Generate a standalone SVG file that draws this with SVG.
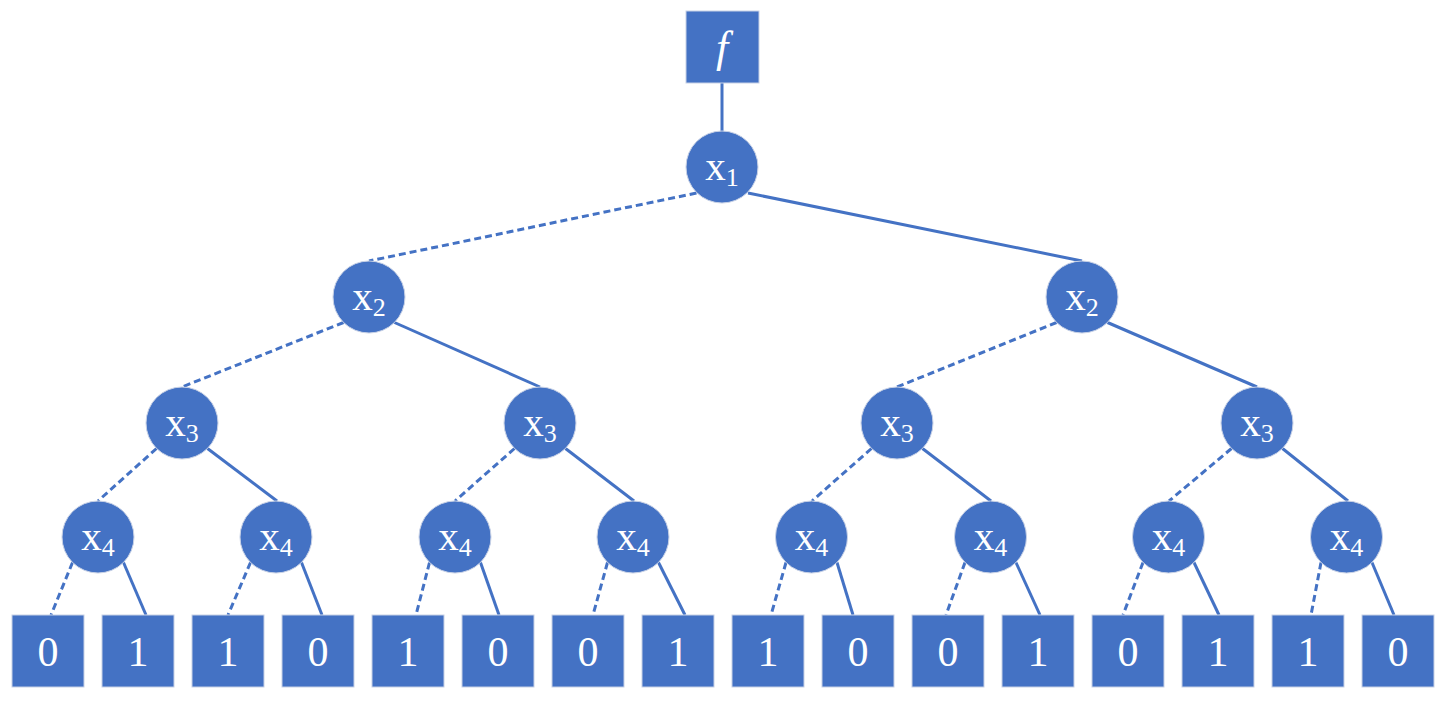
<svg xmlns="http://www.w3.org/2000/svg" width="1440" height="701" viewBox="0 0 1440 701" font-family="'Liberation Serif', 'Times New Roman', serif">
<style>
.nd{fill:#4472C4;stroke:#c7d1e6;stroke-width:1}
.t{fill:#ffffff;text-anchor:middle}
.v{font-size:41px}
.s{font-size:26px}
.lf{font-size:42px}
.e{stroke:#4472C4;stroke-width:3;fill:none}
.d{stroke-dasharray:7 4}
</style>
<rect width="1440" height="701" fill="#ffffff"/>
<g id="connectors">
<line class="e" x1="722" y1="83" x2="722" y2="132"/>
<line class="e d" x1="696.5" y1="193" x2="369" y2="261"/>
<line class="e" x1="748" y1="193" x2="1082" y2="261"/>
<line class="e d" x1="343.5" y1="322.5" x2="182" y2="387"/>
<line class="e" x1="394.5" y1="322.5" x2="540" y2="387"/>
<line class="e d" x1="1056.5" y1="322.5" x2="897" y2="387"/>
<line class="e" x1="1107.5" y1="322.5" x2="1257" y2="387"/>
<line class="e d" x1="156.5" y1="448.5" x2="98" y2="501"/>
<line class="e" x1="207.5" y1="448.5" x2="277" y2="501"/>
<line class="e d" x1="514.5" y1="448.5" x2="455" y2="501"/>
<line class="e" x1="565.5" y1="448.5" x2="634" y2="501"/>
<line class="e d" x1="871.5" y1="448.5" x2="812" y2="501"/>
<line class="e" x1="922.5" y1="448.5" x2="991" y2="501"/>
<line class="e d" x1="1231.5" y1="448.5" x2="1169" y2="501"/>
<line class="e" x1="1282.5" y1="448.5" x2="1348" y2="501"/>
<line class="e d" x1="72.5" y1="562.5" x2="51" y2="615"/>
<line class="e" x1="123.5" y1="562.5" x2="146" y2="615"/>
<line class="e d" x1="250.5" y1="562.5" x2="228" y2="615"/>
<line class="e" x1="301.5" y1="562.5" x2="322" y2="615"/>
<line class="e d" x1="429.5" y1="562.5" x2="416" y2="615"/>
<line class="e" x1="480.5" y1="562.5" x2="499" y2="615"/>
<line class="e d" x1="607.5" y1="562.5" x2="593" y2="615"/>
<line class="e" x1="658.5" y1="562.5" x2="685" y2="615"/>
<line class="e d" x1="786" y1="562.5" x2="771" y2="615"/>
<line class="e" x1="837" y1="562.5" x2="853" y2="615"/>
<line class="e d" x1="965" y1="562.5" x2="946" y2="615"/>
<line class="e" x1="1016" y1="562.5" x2="1040" y2="615"/>
<line class="e d" x1="1143" y1="562.5" x2="1123" y2="615"/>
<line class="e" x1="1194" y1="562.5" x2="1219" y2="615"/>
<line class="e d" x1="1321" y1="562.5" x2="1311" y2="615"/>
<line class="e" x1="1372" y1="562.5" x2="1394" y2="615"/>
</g>
<g id="f"><rect class="nd" x="686" y="11" width="73" height="72"/><text class="t" x="722" y="62" font-size="44" font-style="italic">f</text></g>
<g id="x1"><circle class="nd" cx="722" cy="167" r="36"/><text class="t v" x="722" y="180">x<tspan class="s" dy="6">1</tspan></text></g>
<g id="x2a"><circle class="nd" cx="369" cy="297" r="36"/><text class="t v" x="369" y="310">x<tspan class="s" dy="6">2</tspan></text></g>
<g id="x2b"><circle class="nd" cx="1082" cy="297" r="36"/><text class="t v" x="1082" y="310">x<tspan class="s" dy="6">2</tspan></text></g>
<g id="x3a"><circle class="nd" cx="182" cy="423" r="36"/><text class="t v" x="182" y="436">x<tspan class="s" dy="6">3</tspan></text></g>
<g id="x3b"><circle class="nd" cx="540" cy="423" r="36"/><text class="t v" x="540" y="436">x<tspan class="s" dy="6">3</tspan></text></g>
<g id="x3c"><circle class="nd" cx="897" cy="423" r="36"/><text class="t v" x="897" y="436">x<tspan class="s" dy="6">3</tspan></text></g>
<g id="x3d"><circle class="nd" cx="1257" cy="423" r="36"/><text class="t v" x="1257" y="436">x<tspan class="s" dy="6">3</tspan></text></g>
<g id="x4a"><circle class="nd" cx="98" cy="537" r="36"/><text class="t v" x="98" y="550">x<tspan class="s" dy="6">4</tspan></text></g>
<g id="x4b"><circle class="nd" cx="276" cy="537" r="36"/><text class="t v" x="276" y="550">x<tspan class="s" dy="6">4</tspan></text></g>
<g id="x4c"><circle class="nd" cx="455" cy="537" r="36"/><text class="t v" x="455" y="550">x<tspan class="s" dy="6">4</tspan></text></g>
<g id="x4d"><circle class="nd" cx="633" cy="537" r="36"/><text class="t v" x="633" y="550">x<tspan class="s" dy="6">4</tspan></text></g>
<g id="x4e"><circle class="nd" cx="811.5" cy="537" r="36"/><text class="t v" x="811.5" y="550">x<tspan class="s" dy="6">4</tspan></text></g>
<g id="x4f"><circle class="nd" cx="990.5" cy="537" r="36"/><text class="t v" x="990.5" y="550">x<tspan class="s" dy="6">4</tspan></text></g>
<g id="x4g"><circle class="nd" cx="1168.5" cy="537" r="36"/><text class="t v" x="1168.5" y="550">x<tspan class="s" dy="6">4</tspan></text></g>
<g id="x4h"><circle class="nd" cx="1346.5" cy="537" r="36"/><text class="t v" x="1346.5" y="550">x<tspan class="s" dy="6">4</tspan></text></g>
<g id="l1"><rect class="nd" x="12" y="615" width="72" height="72"/><text class="t lf" x="48" y="666">0</text></g>
<g id="l2"><rect class="nd" x="102" y="615" width="72" height="72"/><text class="t lf" x="138" y="666">1</text></g>
<g id="l3"><rect class="nd" x="192" y="615" width="72" height="72"/><text class="t lf" x="228" y="666">1</text></g>
<g id="l4"><rect class="nd" x="282" y="615" width="72" height="72"/><text class="t lf" x="318" y="666">0</text></g>
<g id="l5"><rect class="nd" x="372" y="615" width="72" height="72"/><text class="t lf" x="408" y="666">1</text></g>
<g id="l6"><rect class="nd" x="462" y="615" width="72" height="72"/><text class="t lf" x="498" y="666">0</text></g>
<g id="l7"><rect class="nd" x="552" y="615" width="72" height="72"/><text class="t lf" x="588" y="666">0</text></g>
<g id="l8"><rect class="nd" x="642" y="615" width="72" height="72"/><text class="t lf" x="678" y="666">1</text></g>
<g id="l9"><rect class="nd" x="732" y="615" width="72" height="72"/><text class="t lf" x="768" y="666">1</text></g>
<g id="l10"><rect class="nd" x="822" y="615" width="72" height="72"/><text class="t lf" x="858" y="666">0</text></g>
<g id="l11"><rect class="nd" x="912" y="615" width="72" height="72"/><text class="t lf" x="948" y="666">0</text></g>
<g id="l12"><rect class="nd" x="1002" y="615" width="72" height="72"/><text class="t lf" x="1038" y="666">1</text></g>
<g id="l13"><rect class="nd" x="1092" y="615" width="72" height="72"/><text class="t lf" x="1128" y="666">0</text></g>
<g id="l14"><rect class="nd" x="1182" y="615" width="72" height="72"/><text class="t lf" x="1218" y="666">1</text></g>
<g id="l15"><rect class="nd" x="1272" y="615" width="72" height="72"/><text class="t lf" x="1308" y="666">1</text></g>
<g id="l16"><rect class="nd" x="1362" y="615" width="72" height="72"/><text class="t lf" x="1398" y="666">0</text></g>
</svg>
